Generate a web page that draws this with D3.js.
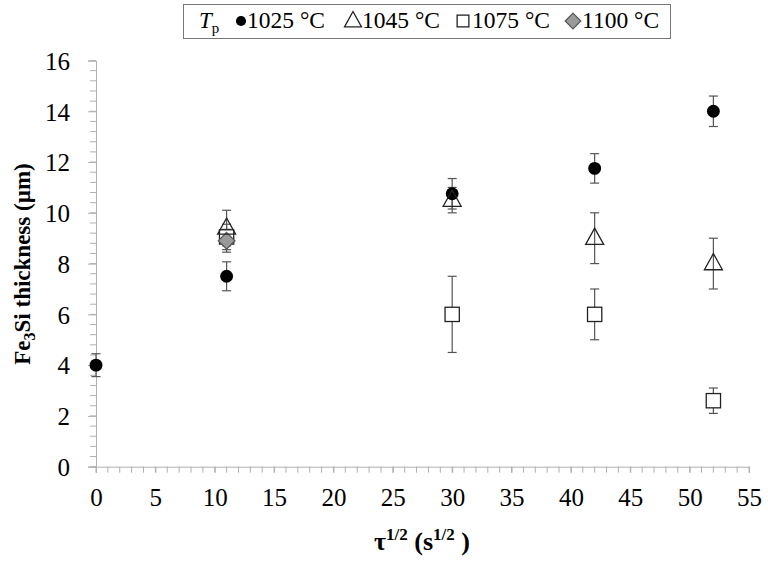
<!DOCTYPE html>
<head>
  <meta charset="utf-8">
  <script src='https://d3js.org/d3.v7.min.js'></script>
  <style>
    body {
      font-family: "Liberation Serif", "Times New Roman", serif;
      margin: 0;
      background: #fff;
    }
    text { font-family: "Liberation Serif", "Times New Roman", serif; }
  </style>
</head>

<body>
<div id='vis'></div>

<script>
// data: [tau^1/2, thickness, error]
const series = ['1025 °C', '1045 °C', '1075 °C', '1100 °C'];
const shapes = ['circle', 'triangle', 'square', 'diamond'];

const t1025 = [[0, 4.0, 0.45], [11, 7.5, 0.57], [30, 10.75, 0.6], [42, 11.75, 0.58], [52, 14.0, 0.6]];
const t1045 = [[11, 9.4, 0.7], [30, 10.5, 0.5], [42, 9.0, 1.0], [52, 8.0, 1.0]];
const t1075 = [[11, 9.05, 0.5], [30, 6.0, 1.5], [42, 6.0, 1.0], [52, 2.6, 0.5]];
const t1100 = [[11, 8.9, 0.45]];

const xTicks = [0, 5, 10, 15, 20, 25, 30, 35, 40, 45, 50, 55];
const yTicks = [0, 2, 4, 6, 8, 10, 12, 14, 16];

const width = 768;
const height = 561;
const serif = '"Liberation Serif", "Times New Roman", serif';

const svg = d3.select('#vis')
  .append('svg')
  .attr('width', width)
  .attr('height', height)
  .attr('font-family', serif);

const x = d3.scaleLinear().domain([0, 55]).range([96, 749]);
const y = d3.scaleLinear().domain([0, 16]).range([466.7, 60.5]);

const axisColour = '#b0b0b0';

// minor ticks
svg.append('g')
  .selectAll('line')
  .data(d3.range(0, 56, 1))
  .join('line')
  .attr('x1', d => x(d)).attr('x2', d => x(d))
  .attr('y1', y(0)).attr('y2', y(0) + 6)
  .attr('stroke', axisColour);

svg.append('g')
  .selectAll('line')
  .data(d3.range(0, 40.1, 1).map(i => i * 0.4))
  .join('line')
  .attr('x1', x(0) - 6).attr('x2', x(0))
  .attr('y1', d => y(d)).attr('y2', d => y(d))
  .attr('stroke', axisColour);

const xAxis = svg.append('g')
  .attr('transform', `translate(0,${y(0)})`)
  .call(d3.axisBottom(x).tickValues(xTicks).tickSize(6).tickPadding(16));

const yAxis = svg.append('g')
  .attr('transform', `translate(${x(0)},0)`)
  .call(d3.axisLeft(y).tickValues(yTicks).tickSize(8).tickPadding(18));

[xAxis, yAxis].forEach(a => {
  a.attr('font-family', serif).attr('font-size', 25);
  a.select('.domain').attr('stroke', axisColour);
  a.selectAll('.tick line').attr('stroke', axisColour);
  a.selectAll('.tick text')
    .attr('fill', '#000')
    .style('font-family', serif)
    .style('font-size', '25px');
});
xAxis.selectAll('.tick text').attr('dy', '0.71em');
yAxis.selectAll('.tick text').attr('dy', '0.35em');

// symbols
function marker(g, shape, size) {
  if (shape === 'circle') {
    g.append('circle').attr('r', size * 0.46)
      .attr('fill', '#000');
  } else if (shape === 'triangle') {
    const h = size * 0.9;
    g.append('path')
      .attr('d', `M0,${-h * 0.62} L${size / 2},${h * 0.38} L${-size / 2},${h * 0.38} Z`)
      .attr('fill', 'none').attr('stroke', '#222').attr('stroke-width', 1.3);
  } else if (shape === 'square') {
    g.append('rect')
      .attr('x', -size * 0.42).attr('y', -size * 0.42)
      .attr('width', size * 0.84).attr('height', size * 0.84)
      .attr('fill', '#fff').attr('stroke', '#222').attr('stroke-width', 1.3);
  } else {
    const r = size * 0.52;
    g.append('path')
      .attr('d', `M0,${-r} L${r},0 L0,${r} L${-r},0 Z`)
      .attr('fill', '#9a9a9a').attr('stroke', '#555').attr('stroke-width', 1.2);
  }
}

const allData = [t1025, t1045, t1075, t1100];

// error bars
const errG = svg.append('g');
allData.forEach(data => {
  data.forEach(d => {
    const g = errG.append('g').attr('stroke', '#555').attr('stroke-width', 1.2);
    g.append('line')
      .attr('x1', x(d[0])).attr('x2', x(d[0]))
      .attr('y1', y(d[1] - d[2])).attr('y2', y(d[1] + d[2]));
    [d[1] - d[2], d[1] + d[2]].forEach(v => {
      g.append('line')
        .attr('x1', x(d[0]) - 4.5).attr('x2', x(d[0]) + 4.5)
        .attr('y1', y(v)).attr('y2', y(v));
    });
  });
});

// draw order: squares, diamond, circles, triangles
const order = [2, 3, 0, 1];
const markerSize = [14, 18, 17, 16];
order.forEach(i => {
  const g = svg.append('g');
  allData[i].forEach(d => {
    const m = g.append('g').attr('transform', `translate(${x(d[0])},${y(d[1])})`);
    marker(m, shapes[i], markerSize[i]);
  });
});

// legend
const legend = svg.append('g');
legend.append('rect')
  .attr('x', 183.5).attr('y', 4.5)
  .attr('width', 487).attr('height', 34)
  .attr('fill', '#fff').attr('stroke', '#777');

const tp = legend.append('text')
  .attr('x', 199).attr('y', 28)
  .style('font-size', '23px');
tp.append('tspan').text('T').style('font-style', 'italic');
tp.append('tspan').text('p').attr('dy', 5).style('font-size', '15px');

const legendX = [241, 353, 463, 573];
const legendSize = [11, 17, 14, 15];
series.forEach((s, i) => {
  const m = legend.append('g').attr('transform', `translate(${legendX[i]},21)`);
  marker(m, shapes[i], legendSize[i]);
  legend.append('text')
    .attr('x', legendX[i] + (i === 0 ? 6 : 9))
    .attr('y', 28)
    .style('font-size', '23.5px')
    .text(s);
});

// axis titles
const xt = svg.append('text')
  .attr('x', 422).attr('y', 550)
  .attr('text-anchor', 'middle')
  .style('font-size', '26px')
  .style('font-weight', 'bold');
xt.append('tspan').text('τ');
xt.append('tspan').text('1/2').attr('dy', -10).style('font-size', '17px');
xt.append('tspan').text(' (s').attr('dy', 10);
xt.append('tspan').text('1/2').attr('dy', -10).style('font-size', '17px');
xt.append('tspan').text(' )').attr('dy', 10);

const yt = svg.append('text')
  .attr('transform', 'translate(30,264) rotate(-90)')
  .attr('text-anchor', 'middle')
  .style('font-size', '23px')
  .style('font-weight', 'bold');
yt.append('tspan').text('Fe');
yt.append('tspan').text('3').attr('dy', 5).style('font-size', '16px');
yt.append('tspan').text('Si thickness (µm)').attr('dy', -5);
</script>
</body>
